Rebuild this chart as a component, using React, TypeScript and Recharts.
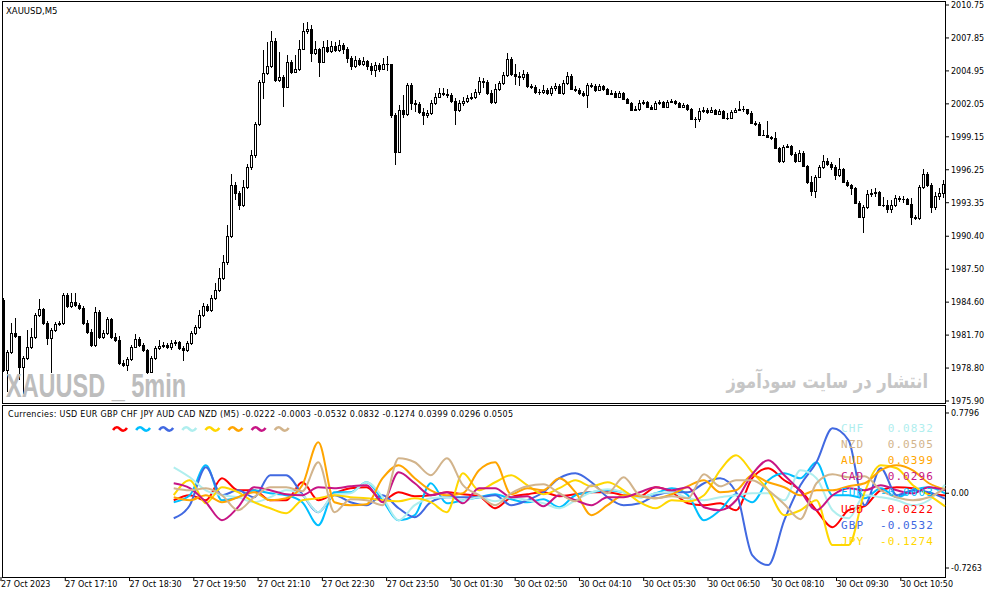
import { ComposedChart, Bar, Line, XAxis, YAxis } from 'recharts'

const FONT = '"DejaVu Sans", sans-serif'

// x axis labels, one every 16 bars
const timeLabels = [
  '27 Oct 2023', '27 Oct 17:10', '27 Oct 18:30', '27 Oct 19:50', '27 Oct 21:10',
  '27 Oct 22:30', '27 Oct 23:50', '30 Oct 01:30', '30 Oct 02:50', '30 Oct 04:10',
  '30 Oct 05:30', '30 Oct 06:50', '30 Oct 08:10', '30 Oct 09:30', '30 Oct 10:50',
]

const priceTicks = [
  2010.75, 2007.85, 2004.95, 2002.05, 1999.15, 1996.25, 1993.35,
  1990.4, 1987.5, 1984.6, 1981.7, 1978.8, 1975.9,
]

// XAUUSD M5 candles (open of each bar = previous close)
const firstOpen = 1984.8
const closes = [
  1978.64, 1980.22, 1981.9, 1981.63, 1978.9, 1979.7, 1980.66, 1981.54, 1983.48, 1984.01,
  1982.78, 1981.46, 1982.16, 1982.69, 1982.78, 1985.24, 1984.27, 1984.62, 1984.36, 1984.1,
  1982.78, 1981.98, 1980.84, 1983.74, 1981.54, 1981.9, 1983.13, 1981.54, 1981.28, 1979.26,
  1979.08, 1979.61, 1980.66, 1981.37, 1980.84, 1980.4, 1978.46, 1979.7, 1980.58, 1980.75,
  1980.84, 1980.66, 1981.02, 1981.1, 1980.58, 1980.4, 1981.02, 1981.9, 1982.42, 1983.48,
  1984.27, 1983.92, 1984.98, 1985.68, 1986.74, 1988.14, 1990.43, 1994.92, 1994.22, 1993.16,
  1994.74, 1996.5, 1997.56, 2000.29, 2003.98, 2004.78, 2005.39, 2007.59, 2004.16, 2004.42,
  2003.54, 2005.74, 2004.86, 2005.13, 2006.89, 2008.47, 2008.65, 2006.54, 2006.89, 2005.74,
  2007.06, 2006.71, 2007.15, 2006.8, 2007.24, 2006.89, 2006.1, 2005.39, 2005.92, 2005.57,
  2005.83, 2005.39, 2005.04, 2005.48, 2005.13, 2005.57, 2005.57, 2001.08, 1997.82, 2001.52,
  2001.17, 2003.72, 2002.14, 2002.05, 2001.34, 2001.08, 2001.26, 2002.14, 2002.66, 2003.02,
  2002.93, 2002.84, 2002.31, 2001.52, 2002.14, 2002.31, 2002.58, 2002.66, 2003.1, 2004.07,
  2003.98, 2003.02, 2002.22, 2003.37, 2003.9, 2004.6, 2006.01, 2004.69, 2004.51, 2004.42,
  2004.69, 2003.63, 2003.54, 2003.1, 2003.1, 2003.28, 2003.02, 2003.46, 2003.63, 2003.02,
  2003.9, 2004.51, 2003.37, 2003.28, 2003.02, 2002.84, 2003.72, 2003.63, 2003.28, 2003.63,
  2003.37, 2002.93, 2003.02, 2002.66, 2003.02, 2002.49, 2002.14, 2001.52, 2001.61, 2002.14,
  2002.22, 2001.78, 2001.61, 2002.14, 2002.22, 2001.78, 2002.22, 2002.31, 2002.14, 2001.78,
  2001.96, 2001.61, 2000.73, 2000.73, 2001.43, 2001.52, 2001.34, 2001.52, 2001.17, 2001.43,
  2000.82, 2000.82, 2001.34, 2001.52, 2001.61, 2001.61, 2001.26, 2000.38, 2000.29, 1999.32,
  1999.32, 1999.14, 1999.06, 1998.18, 1997.03, 1998.26, 1998.35, 1997.65, 1997.03, 1997.74,
  1996.59, 1995.18, 1994.39, 1995.62, 1996.5, 1997.03, 1996.77, 1996.5, 1995.8, 1996.33,
  1995.18, 1994.92, 1994.66, 1993.34, 1992.1, 1992.98, 1994.13, 1994.22, 1994.3, 1993.16,
  1993.16, 1992.81, 1993.16, 1993.78, 1993.69, 1993.69, 1993.25, 1992.1, 1992.02, 1994.74,
  1995.89, 1994.92, 1992.98, 1993.95, 1994.22, 1995.01,
]
const highs = [
  1984.98, 1980.4, 1982.78, 1983.22, 1981.63, 1979.87, 1982.16, 1982.34, 1983.66, 1984.89,
  1984.1, 1982.95, 1982.34, 1982.86, 1982.95, 1985.42, 1985.42, 1985.42, 1985.42, 1984.54,
  1984.27, 1983.04, 1982.25, 1984.18, 1983.92, 1982.16, 1983.3, 1983.22, 1981.9, 1981.63,
  1979.52, 1979.78, 1980.84, 1981.81, 1981.54, 1981.02, 1980.49, 1979.87, 1980.75, 1981.28,
  1981.1, 1981.02, 1981.28, 1981.28, 1981.19, 1980.75, 1981.19, 1982.07, 1982.6, 1983.92,
  1984.54, 1984.45, 1985.24, 1986.3, 1987.62, 1988.76, 1991.4, 1995.89, 1995.18, 1994.39,
  1995.36, 1996.77, 1998.0, 2000.46, 2004.16, 2006.8, 2007.5, 2008.47, 2007.86, 2006.62,
  2004.6, 2006.36, 2005.92, 2006.36, 2007.68, 2009.18, 2009.26, 2009.0, 2007.59, 2006.98,
  2007.59, 2007.68, 2007.59, 2007.5, 2007.68, 2007.42, 2007.06, 2006.27, 2006.27, 2006.1,
  2006.18, 2005.92, 2005.66, 2005.74, 2005.66, 2006.1, 2006.27, 2004.16, 2001.26, 2001.96,
  2002.84, 2003.9, 2003.9, 2002.4, 2002.22, 2001.7, 2001.52, 2002.4, 2003.02, 2003.46,
  2003.46, 2003.37, 2003.02, 2002.58, 2002.4, 2002.66, 2002.84, 2003.02, 2003.37, 2004.42,
  2004.34, 2004.16, 2003.28, 2003.81, 2004.07, 2004.86, 2006.54, 2006.18, 2005.57, 2004.86,
  2005.04, 2004.86, 2003.81, 2003.72, 2003.37, 2003.72, 2003.46, 2003.63, 2003.9, 2003.81,
  2004.16, 2004.86, 2004.69, 2003.63, 2003.46, 2003.19, 2003.9, 2003.9, 2003.81, 2003.81,
  2003.72, 2003.46, 2003.28, 2003.19, 2003.19, 2003.1, 2002.58, 2002.22, 2001.87, 2002.4,
  2002.4, 2002.31, 2001.96, 2002.31, 2002.4, 2002.31, 2002.4, 2002.49, 2002.4, 2002.22,
  2002.14, 2002.05, 2001.7, 2000.9, 2001.7, 2001.78, 2001.7, 2001.78, 2001.61, 2001.61,
  2001.52, 2001.26, 2001.52, 2001.7, 2002.31, 2001.87, 2001.52, 2001.43, 2000.55, 2000.46,
  1999.76, 2000.55, 1999.23, 1999.58, 1998.26, 1998.44, 1998.53, 1998.44, 1997.82, 1998.0,
  1997.91, 1996.68, 1995.71, 1995.8, 1996.68, 1997.56, 1997.3, 1996.94, 1996.68, 1997.3,
  1996.42, 1995.36, 1995.01, 1994.74, 1993.51, 1993.16, 1994.48, 1994.57, 1994.66, 1994.39,
  1993.86, 1993.6, 1993.6, 1994.04, 1993.95, 1993.95, 1993.78, 1993.78, 1992.28, 1994.92,
  1996.33, 1996.06, 1995.1, 1994.3, 1994.66, 1995.36,
]
const lows = [
  1978.46, 1976.7, 1980.05, 1981.46, 1977.76, 1976.53, 1979.52, 1980.49, 1981.37, 1983.3,
  1982.6, 1980.84, 1978.38, 1981.98, 1982.51, 1982.6, 1984.1, 1984.1, 1984.18, 1983.92,
  1982.6, 1981.81, 1980.66, 1980.66, 1981.37, 1981.37, 1981.72, 1981.37, 1981.1, 1979.08,
  1978.9, 1978.55, 1979.43, 1980.58, 1980.66, 1980.22, 1978.29, 1978.46, 1979.52, 1980.4,
  1980.58, 1980.49, 1980.4, 1980.75, 1980.4, 1979.43, 1980.22, 1980.84, 1981.72, 1982.25,
  1983.3, 1983.74, 1983.74, 1984.8, 1985.5, 1986.56, 1987.88, 1990.26, 1993.6, 1992.72,
  1992.98, 1994.57, 1996.24, 1997.3, 2000.11, 2002.49, 2004.6, 2005.22, 2003.98, 2003.98,
  2001.78, 2003.46, 2004.69, 2004.78, 2004.95, 2006.8, 2008.21, 2005.74, 2006.36, 2004.42,
  2005.66, 2006.54, 2006.54, 2006.62, 2006.62, 2006.45, 2005.66, 2005.04, 2005.22, 2005.39,
  2005.39, 2005.04, 2004.6, 2004.42, 2004.86, 2005.04, 2004.95, 2000.82, 1996.68, 1997.74,
  2000.82, 2000.99, 2001.52, 2001.34, 2001.17, 2000.2, 2000.82, 2001.08, 2001.96, 2002.58,
  2002.75, 2002.58, 2002.14, 2000.2, 2001.34, 2001.87, 2002.14, 2002.4, 2002.49, 2002.84,
  2003.46, 2002.84, 2002.05, 2002.05, 2003.19, 2003.72, 2004.42, 2004.51, 2003.72, 2003.63,
  2004.16, 2003.46, 2003.37, 2002.93, 2002.84, 2002.93, 2002.84, 2002.75, 2003.19, 2002.93,
  2002.84, 2003.72, 2003.28, 2003.1, 2002.84, 2002.66, 2001.7, 2003.46, 2003.1, 2003.19,
  2003.19, 2002.84, 2002.84, 2002.58, 2002.58, 2002.4, 2002.05, 2001.43, 2001.43, 2001.43,
  2001.96, 2001.7, 2001.52, 2001.52, 2001.96, 2001.7, 2001.7, 2002.14, 2001.96, 2001.7,
  2001.78, 2001.43, 2000.64, 1999.94, 2000.46, 2001.26, 2001.17, 2001.26, 2001.08, 2001.08,
  2000.73, 2000.64, 2000.73, 2001.26, 2001.43, 2001.34, 2001.08, 2000.29, 2000.11, 1999.23,
  1999.23, 1999.06, 1998.88, 1998.09, 1996.86, 1996.86, 1998.18, 1997.47, 1996.86, 1996.94,
  1996.5, 1995.01, 1993.95, 1993.78, 1995.54, 1996.33, 1996.59, 1996.24, 1995.36, 1995.62,
  1995.1, 1994.74, 1994.04, 1993.25, 1992.02, 1990.7, 1992.81, 1993.86, 1993.86, 1993.07,
  1992.98, 1992.46, 1992.46, 1992.98, 1993.42, 1993.34, 1993.16, 1991.4, 1991.84, 1991.84,
  1994.57, 1994.74, 1992.46, 1992.72, 1993.6, 1993.78,
]

// currency strength, sampled every 4 bars starting at bar 43
const strengthStart = 43
const strengthStep = 4
const usd = [
  -0.068, -0.019, -0.068, 0.146, 0.029, 0.029, -0.068, -0.068, 0.107, -0.068,
  0, 0.049, 0.058, -0.068, 0.01, -0.029, -0.019, 0.01, -0.01, -0.029,
  -0.146, -0.039, -0.01, 0.01, -0.029, -0.01, 0.01, 0.01, -0.019, -0.029,
  0.058, 0.01, -0.097, -0.116, -0.097, -0.165, 0.146, 0.243, 0.126, 0.029,
  -0.165, -0.33, -0.165, -0.126, 0.029, 0.058, 0.049, 0, -0.0222,
]
const eur = [
  -0.087, -0.019, 0.272, -0.068, -0.039, 0.029, 0, -0.019, -0.087, -0.31,
  0.01, 0.01, 0.107, -0.068, -0.262, -0.213, 0.097, -0.097, -0.068, -0.039,
  -0.01, -0.058, -0.087, -0.058, -0.136, -0.019, 0.01, 0.029, 0.01, -0.039,
  0, 0.049, -0.019, -0.262, -0.165, -0.01, -0.087, 0.126, 0.194, 0.146,
  0.301, -0.019, -0.019, -0.049, 0.049, -0.039, 0.029, 0.058, -0.0003,
]
const gbp = [
  -0.243, -0.116, 0.252, -0.019, 0.029, -0.039, 0.175, 0.175, -0.01, -0.184,
  -0.019, -0.087, -0.116, -0.019, -0.146, -0.233, -0.087, -0.039, -0.039, -0.039,
  -0.019, -0.116, -0.068, 0.01, 0.146, 0.194, 0.107, -0.039, -0.116, -0.097,
  -0.019, 0.01, 0.01, 0.097, 0.146, 0.01, -0.601, -0.698, -0.262, 0.078,
  0.301, 0.631, 0.514, -0.116, 0.243, -0.019, 0.029, 0.01, -0.0532,
]
const chf = [
  0.252, 0.155, 0.029, -0.019, -0.039, -0.087, -0.039, 0.029, -0.019, -0.184,
  -0.01, 0, 0.107, -0.039, -0.262, -0.116, -0.049, -0.039, -0.068, -0.039,
  -0.078, -0.039, -0.068, -0.097, -0.146, -0.068, 0.01, 0.039, 0.01, -0.039,
  0, 0.01, -0.049, -0.068, -0.039, -0.019, 0, 0, -0.068, 0.223,
  0.146, -0.165, -0.243, -0.019, -0.039, -0.068, -0.116, -0.068, 0.0832,
]
const jpy = [
  -0.019, 0.126, -0.097, 0.058, 0.01, -0.087, -0.146, -0.194, -0.068, -0.049,
  -0.019, -0.039, -0.049, -0.068, -0.078, -0.049, -0.087, -0.184, 0.194, 0.029,
  0.107, 0.175, 0.078, -0.01, 0.049, 0.126, 0.068, 0.107, 0.029, -0.087,
  -0.146, -0.068, -0.078, -0.019, 0.223, 0.369, 0.204, 0.029, -0.213, -0.165,
  -0.068, -0.504, -0.504, 0.01, 0.272, 0.243, 0.078, -0.019, -0.1274,
]
const aud = [
  -0.039, -0.068, -0.019, -0.087, -0.039, 0.01, -0.068, -0.049, 0.078, 0.495,
  -0.087, -0.116, -0.107, 0.146, 0.272, 0.146, 0.029, -0.019, 0, 0.223,
  0.301, -0.01, 0.049, 0.029, 0.146, 0.01, -0.213, -0.116, -0.019, -0.029,
  -0.049, -0.01, 0.068, 0.126, 0.01, 0.029, 0.175, 0.107, 0.058, -0.019,
  0.029, 0.029, 0.068, 0.097, 0.223, 0.272, 0.223, 0.097, 0.0399,
]
const cad = [
  0.097, 0.049, -0.087, -0.262, -0.136, 0.058, 0.029, -0.01, -0.019, 0.058,
  0.049, 0.068, 0.078, -0.087, 0.204, 0.097, -0.019, 0.01, -0.097, 0.049,
  0.049, -0.039, -0.029, -0.126, -0.019, -0.068, -0.116, -0.039, -0.039, 0.01,
  0.058, 0.029, 0.058, -0.136, -0.165, -0.068, 0.184, 0.32, 0.175, 0.019,
  -0.165, -0.019, 0.049, 0.029, 0.078, 0.029, 0, 0.058, 0.0296,
]
const nzd = [
  0.049, 0.029, 0.049, -0.019, -0.165, -0.039, 0.058, 0.058, 0.019, 0.301,
  -0.184, -0.058, -0.068, -0.116, 0.34, 0.301, 0.175, 0.34, 0.078, -0.019,
  -0.116, 0, 0.068, 0.087, 0, -0.078, 0.078, 0, 0.155, -0.019,
  -0.049, -0.029, -0.049, 0.184, 0.068, 0.126, 0.126, 0.029, -0.107, -0.252,
  0.097, 0.184, 0.155, 0.165, 0.029, -0.039, -0.068, -0.039, 0.0505,
]

const currencies = [
  { name: 'USD', color: '#FF0000', values: usd },
  { name: 'EUR', color: '#00BFFF', values: eur },
  { name: 'GBP', color: '#4169E1', values: gbp },
  { name: 'CHF', color: '#AFEEEE', values: chf },
  { name: 'JPY', color: '#FFD700', values: jpy },
  { name: 'AUD', color: '#FFA500', values: aud },
  { name: 'CAD', color: '#C71585', values: cad },
  { name: 'NZD', color: '#D2B48C', values: nzd },
]

const strengthTicks = [0.7796, 0, -0.7263]

const candles = closes.map((close, i) => {
  const open = i === 0 ? firstOpen : closes[i - 1]
  return {
    i,
    open,
    close,
    high: Math.max(highs[i], open, close),
    low: Math.min(lows[i], open, close),
  }
})

const strengthRows = closes.map((_, i) => {
  const row: Record<string, number> = { i }
  const k = (i - strengthStart) / strengthStep
  if (k >= 0 && Number.isInteger(k)) {
    currencies.forEach((c) => {
      row[c.name] = c.values[k]
    })
  }
  return row
})

const lastValue = (c: { values: number[] }) => c.values[c.values.length - 1]

function Candle(props: any) {
  const { x, y, width, height, payload } = props
  const top = Math.min(y, y + height)
  const h = Math.abs(height)
  const { open, close, high, low } = payload
  const pos = (v: number) => top + ((high - v) / (high - low)) * h
  const cx = Math.floor(x + width / 2) + 0.5
  const yo = Math.round(pos(open))
  const yc = Math.round(pos(close))
  const bodyTop = Math.min(yo, yc)
  const bodyBot = Math.max(yo, yc)
  const bull = close >= open
  return (
    <g>
      <line x1={cx} x2={cx} y1={Math.round(top)} y2={Math.round(top + h)} stroke="#000" />
      {bodyBot - bodyTop < 1 ? (
        <line x1={cx - 1.5} x2={cx + 1.5} y1={bodyTop + 0.5} y2={bodyTop + 0.5} stroke="#000" />
      ) : (
        <rect
          x={cx - 1}
          y={bodyTop + 0.5}
          width={2}
          height={bodyBot - bodyTop}
          fill={bull ? '#fff' : '#000'}
          stroke="#000"
        />
      )}
    </g>
  )
}

function TimeTick(props: any) {
  const { x, y, payload } = props
  return (
    <text x={x} y={y + 6} fontSize={8} fontFamily={FONT} fill="#000" textAnchor="start">
      {timeLabels[payload.value / 16]}
    </text>
  )
}

function Wave({ x, y, color }: { x: number; y: number; color: string }) {
  return (
    <path
      d={`M${x - 7} ${y + 1} C${x - 4} ${y - 3} ${x - 2} ${y - 2} ${x} ${y} S${x + 4} ${y + 3} ${x + 7} ${y - 1}`}
      stroke={color}
      strokeWidth={2.6}
      fill="none"
    />
  )
}

const yTick = { fontSize: 8, fontFamily: FONT, fill: '#000' }

export default function App() {
  const sorted = [...currencies].sort((a, b) => lastValue(b) - lastValue(a))
  const header =
    'Currencies: ' +
    currencies.map((c) => c.name).join(' ') +
    ' (M5) ' +
    currencies.map((c) => lastValue(c).toFixed(4)).join(' ')

  return (
    <div style={{ position: 'fixed', left: 0, top: 0, width: 991, height: 596, background: '#fff' }}>
      {/* panel frames */}
      <div
        style={{
          position: 'absolute', left: 2, top: 1, width: 944, height: 403,
          border: '1px solid #000', boxSizing: 'border-box',
        }}
      />
      <div
        style={{
          position: 'absolute', left: 2, top: 405, width: 944, height: 173,
          border: '1px solid #000', boxSizing: 'border-box',
        }}
      />

      <div style={{ position: 'absolute', left: 0, top: 0 }}>
        <ComposedChart width={991} height={410} data={candles} margin={{ top: 5, right: 0, bottom: 9, left: 1 }}>
          <XAxis dataKey="i" hide />
          <YAxis
            orientation="right"
            width={46}
            domain={[1975.9, 2010.75]}
            ticks={priceTicks}
            tickFormatter={(v: number) => v.toFixed(2)}
            axisLine={false}
            tickLine={{ stroke: '#000' }}
            tickSize={4}
            tickMargin={2}
            tick={yTick}
            interval={0}
          />
          <Bar
            dataKey={(d: any) => [d.low, d.high]}
            barSize={3}
            shape={<Candle />}
            isAnimationActive={false}
          />
        </ComposedChart>
      </div>

      <div style={{ position: 'absolute', left: 0, top: 405 }}>
        <ComposedChart width={991} height={191} data={strengthRows} margin={{ top: 1, right: 0, bottom: 0, left: 1 }}>
          <XAxis
            dataKey="i"
            interval={15}
            height={19}
            axisLine={false}
            tickLine={{ stroke: '#000' }}
            tickSize={4}
            tickMargin={0}
            tick={(p: any) => <TimeTick {...p} />}
          />
          <YAxis
            orientation="right"
            width={46}
            domain={[-0.8137, 0.8476]}
            ticks={strengthTicks}
            tickFormatter={(v: number) => (v === 0 ? '0.00' : v.toFixed(4))}
            axisLine={false}
            tickLine={{ stroke: '#000' }}
            tickSize={4}
            tickMargin={2}
            tick={yTick}
            interval={0}
          />
          {currencies.map((c) => (
            <Line
              key={c.name}
              dataKey={c.name}
              type="monotone"
              stroke={c.color}
              strokeWidth={2}
              dot={false}
              connectNulls
              isAnimationActive={false}
            />
          ))}
        </ComposedChart>
      </div>

      {/* texts over the charts */}
      <svg width={991} height={596} style={{ position: 'absolute', left: 0, top: 0, pointerEvents: 'none' }}>
        <text x={6} y={14} fontSize={8.5} fontFamily={FONT} fill="#000">XAUUSD,M5</text>
        <text
          x={6}
          y={397}
          fontSize={34}
          fontWeight="bold"
          fontFamily='"Liberation Sans", Arial, sans-serif'
          fill="#bdbdbd"
          textLength={180}
          lengthAdjust="spacingAndGlyphs"
        >
          XAUUSD _ 5min
        </text>
        <g transform="translate(928 388) scale(0.82 1)">
          <text x={0} y={0} fontSize={20} fontWeight="bold" fontFamily={FONT} fill="#c6c6c6" textAnchor="end">
            انتشار در سایت سودآموز
          </text>
        </g>

        <text x={8} y={417} fontSize={8} fontFamily={FONT} fill="#000" textLength={505} lengthAdjust="spacing">
          {header}
        </text>
        {currencies.map((c, j) => (
          <Wave key={c.name} x={120 + j * 23.1} y={429} color={c.color} />
        ))}

        {sorted.map((c, k) => (
          <g key={c.name} fontFamily='"DejaVu Sans Mono", monospace' fontSize={11} fill={c.color} letterSpacing={1.1}>
            <text x={841} y={432 + k * 16.1}>{c.name}</text>
            <text x={934} y={432 + k * 16.1} textAnchor="end">{lastValue(c).toFixed(4)}</text>
          </g>
        ))}
      </svg>
    </div>
  )
}
